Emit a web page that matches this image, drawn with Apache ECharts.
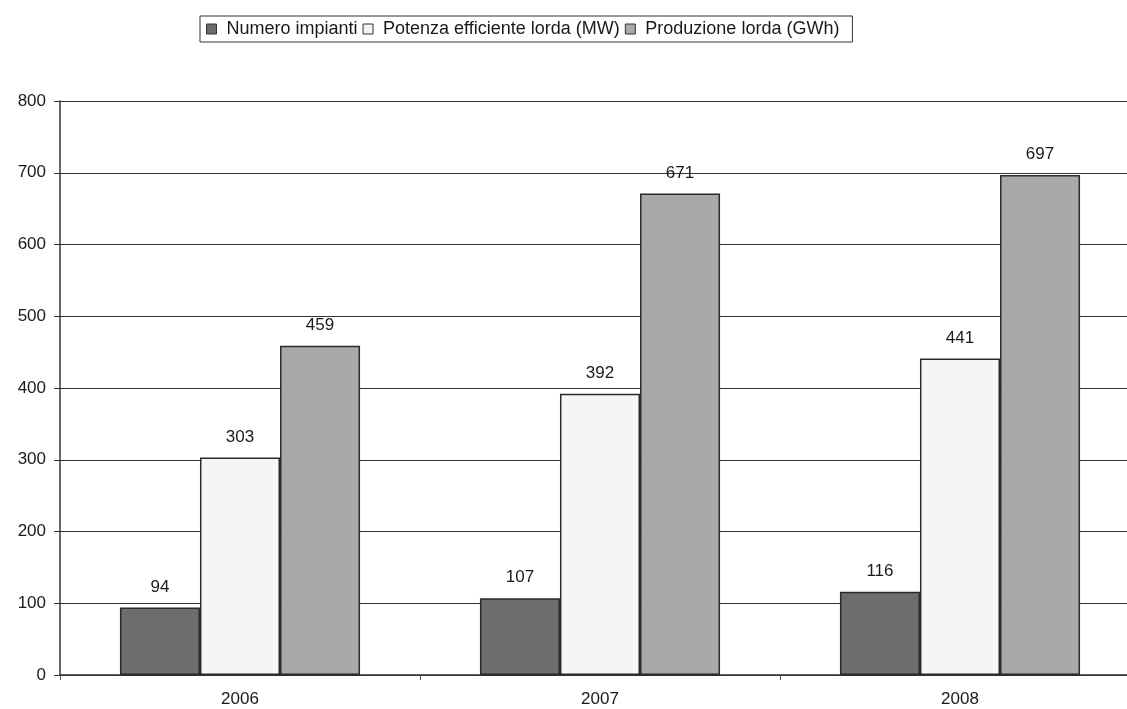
<!DOCTYPE html>
<html><head><meta charset="utf-8">
<script src="https://cdn.jsdelivr.net/npm/echarts@6/dist/echarts.min.js"></script>
<style>html,body{margin:0;padding:0;background:#fff;overflow:hidden;width:1127px;height:709px}#c{width:1140px;height:709px}</style>
</head><body><div id="c"></div>
<script>
const categories = ['2006', '2007', '2008'];
const numeroImpianti = [94, 107, 116];
const potenza = [303, 392, 441];
const produzione = [459, 671, 697];
const seriesNames = ['Numero impianti', 'Potenza efficiente lorda (MW)', 'Produzione lorda (GWh)'];
const yTicks = { min: 0, max: 800, interval: 100 };

const colors = ['#6d6d6d', '#f5f5f5', '#a9a9a9'];
const font = 'Liberation Sans, Arial, sans-serif';
function mk(name, data, color) {
  return {
    name: name, type: 'bar', data: data, barGap: '0%', barCategoryGap: '33.3%',
    itemStyle: { color: color, borderColor: '#2a2a2a', borderWidth: 1.5 },
    label: { show: true, position: 'top', distance: 12, color: '#1a1a1a', fontSize: 17, fontFamily: font },
    emphasis: { disabled: true }
  };
}
const chart = echarts.init(document.getElementById('c'));
chart.setOption({
  animation: false,
  backgroundColor: '#fff',
  legend: {
    top: 16, left: 200,
    itemWidth: 10, itemHeight: 10, itemGap: 5,
    borderColor: '#333', borderWidth: 1, padding: [4, 13, 4, 6],
    textStyle: { fontSize: 18, fontFamily: font, color: '#1a1a1a', padding: [0, 0, 0, 5] },
    icon: 'rect',
    data: seriesNames.map((n, i) => ({ name: n, itemStyle: { color: colors[i], borderColor: '#333', borderWidth: 1 } }))
  },
  grid: { left: 60, top: 101, right: 0, height: 574, containLabel: false },
  xAxis: {
    type: 'category', data: categories,
    axisLine: { lineStyle: { color: '#333', width: 1.5 } },
    axisTick: { show: true, length: 5, lineStyle: { color: '#555' } },
    axisLabel: { fontSize: 17, fontFamily: font, color: '#1a1a1a', margin: 16 }
  },
  yAxis: {
    type: 'value', min: yTicks.min, max: yTicks.max, interval: yTicks.interval,
    axisLine: { show: true, lineStyle: { color: '#333', width: 1.5 } },
    axisTick: { show: true, length: 6, lineStyle: { color: '#333' } },
    axisLabel: { fontSize: 17, fontFamily: font, color: '#1a1a1a', margin: 14 },
    splitLine: { lineStyle: { color: '#333', width: 1 } }
  },
  series: [
    mk(seriesNames[0], numeroImpianti, colors[0]),
    mk(seriesNames[1], potenza, colors[1]),
    mk(seriesNames[2], produzione, colors[2])
  ]
});
</script></body></html>
